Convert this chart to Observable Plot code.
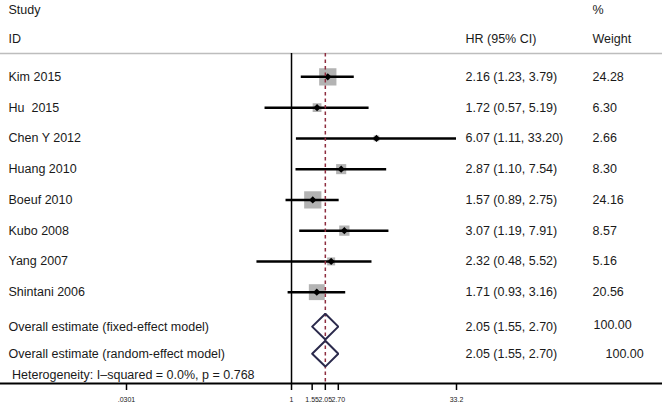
<!DOCTYPE html>
<html>
<head>
<meta charset="utf-8">
<script src="https://cdn.jsdelivr.net/npm/d3@7"></script>
<script src="https://cdn.jsdelivr.net/npm/@observablehq/plot@0.6"></script>
<style>
  html, body { margin: 0; padding: 0; background: #fff; }
  #chart svg { display: block; }
</style>
</head>
<body>
<div id="chart"></div>
<script>
// ---- Data ----
const studies = ["Kim 2015", "Hu  2015", "Chen Y 2012", "Huang 2010", "Boeuf 2010", "Kubo 2008", "Yang 2007", "Shintani 2006"];
const hr      = [2.16, 1.72, 6.07, 2.87, 1.57, 3.07, 2.32, 1.71];
const lower   = [1.23, 0.57, 1.11, 1.10, 0.89, 1.19, 0.48, 0.93];
const upper   = [3.79, 5.19, 33.20, 7.54, 2.75, 7.91, 5.52, 3.16];
const weights = [24.28, 6.30, 2.66, 8.30, 24.16, 8.57, 5.16, 20.56];

const overallLabels = ["Overall estimate (fixed-effect model)", "Overall estimate (random-effect model)"];
const overallHR     = [2.05, 2.05];
const overallLower  = [1.55, 1.55];
const overallUpper  = [2.70, 2.70];
const overallWeight = ["100.00", "100.00"];

const heterogeneity = "Heterogeneity: I\u2013squared = 0.0%, p = 0.768";
const tickValues = [0.0301, 1, 1.55, 2.05, 2.70, 33.2];
const tickLabels = [".0301", "1", "1.55", "2.05", "2.70", "33.2"];

// ---- Layout (row positions in row units) ----
const overallRows = [8.12, 9.0];
const overallWeightDx = [593, 605];
const hetRow = 9.7;
const headRows = {study: -2.19, id: -1.23};
const diamondHalf = 0.42;
const fmt = d3.format(".2f");

const rows = studies.map((s, i) => ({
  study: s, hr: hr[i], lo: lower[i], hi: upper[i], w: weights[i], row: i,
  ci: `${fmt(hr[i])} (${fmt(lower[i])}, ${fmt(upper[i])})`,
  wt: fmt(weights[i])
}));
const overall = overallLabels.map((s, i) => ({
  label: s, hr: overallHR[i], lo: overallLower[i], hi: overallUpper[i], row: overallRows[i],
  ci: `${fmt(overallHR[i])} (${fmt(overallLower[i])}, ${fmt(overallUpper[i])})`,
  wt: overallWeight[i]
}));
const diamondPts = overall.flatMap((o, k) => [
  {x: o.lo, y: o.row, k}, {x: o.hr, y: o.row - diamondHalf, k},
  {x: o.hi, y: o.row, k}, {x: o.hr, y: o.row + diamondHalf, k},
  {x: o.lo, y: o.row, k}
]);

const font = "Helvetica, Arial, 'Liberation Sans', sans-serif";
const fs = 12.5;
const ink = "#1a1a1a";

const chart = Plot.plot({
  width: 662,
  height: 407,
  marginLeft: 0,
  marginRight: 0,
  marginTop: 53,
  marginBottom: 24,
  style: {fontFamily: font, background: "#fff", overflow: "visible"},
  x: {type: "log", domain: [0.0301, 33.2], range: [126, 456], axis: null},
  y: {domain: [-0.76, 9.97], reverse: true, axis: null},
  r: {domain: [0, 24.28], range: [0, 9.75]},
  marks: [
    // header separator
    Plot.frame({anchor: "top", stroke: "#bdbdbd", strokeWidth: 1.5}),
    // null line at 1
    Plot.ruleX([1], {stroke: "#000", strokeWidth: 1.5}),
    // weight boxes
    Plot.dot(rows, {x: "hr", y: "row", r: "w", symbol: "square", fill: "#b3b3b3", stroke: "none"}),
    // CIs
    Plot.ruleY(rows, {y: "row", x1: "lo", x2: "hi", stroke: "#000", strokeWidth: 2.5}),
    // point estimates
    Plot.dot(rows, {x: "hr", y: "row", r: 3.3, symbol: "diamond2", fill: "#000", stroke: "none"}),
    // overall effect dashed line
    Plot.ruleX([overallHR[0]], {stroke: "#8e2d3f", strokeWidth: 1.5, strokeDasharray: "3.5,3"}),
    // overall diamonds
    Plot.line(diamondPts, {x: "x", y: "y", z: "k", stroke: "#2b2a4c", strokeWidth: 2, fill: "none", strokeLinejoin: "miter"}),
    // axis line
    Plot.frame({anchor: "bottom", stroke: "#000", strokeWidth: 1.8}),
    Plot.axisX({ticks: tickValues, tickFormat: d => tickLabels[tickValues.indexOf(d)], tickSize: 7, tickPadding: 7, fontSize: 7, stroke: "#000", strokeWidth: 1.5, fill: ink}),
    // headers
    Plot.text(["Study"], {y: () => headRows.study, frameAnchor: "left", dx: 8, textAnchor: "start", fontSize: fs, fill: ink}),
    Plot.text(["ID"], {y: () => headRows.id, frameAnchor: "left", dx: 8, textAnchor: "start", fontSize: fs, fill: ink}),
    Plot.text(["HR (95% CI)"], {y: () => headRows.id, frameAnchor: "left", dx: 465, textAnchor: "start", fontSize: fs, fill: ink}),
    Plot.text(["%"], {y: () => headRows.study, frameAnchor: "left", dx: 592, textAnchor: "start", fontSize: fs, fill: ink}),
    Plot.text(["Weight"], {y: () => headRows.id, frameAnchor: "left", dx: 592, textAnchor: "start", fontSize: fs, fill: ink}),
    // study labels and values
    Plot.text(rows, {y: "row", text: "study", frameAnchor: "left", dx: 8, textAnchor: "start", fontSize: fs, fill: ink}),
    Plot.text(rows, {y: "row", text: "ci", frameAnchor: "left", dx: 465, textAnchor: "start", fontSize: fs, fill: ink}),
    Plot.text(rows, {y: "row", text: "wt", frameAnchor: "left", dx: 592, textAnchor: "start", fontSize: fs, fill: ink}),
    // overall labels and values
    Plot.text(overall, {y: "row", text: "label", frameAnchor: "left", dx: 8, textAnchor: "start", fontSize: fs, fill: ink}),
    Plot.text(overall, {y: "row", text: "ci", frameAnchor: "left", dx: 465, textAnchor: "start", fontSize: fs, fill: ink}),
    ...overall.map((o, i) => Plot.text([o], {y: d => d.row - (i === 0 ? 0.06 : 0), text: "wt", frameAnchor: "left", dx: overallWeightDx[i], textAnchor: "start", fontSize: fs, fill: ink})),
    // heterogeneity
    Plot.text([heterogeneity], {y: () => hetRow, frameAnchor: "left", dx: 11.5, textAnchor: "start", fontSize: fs, fill: ink})
  ]
});
document.getElementById("chart").appendChild(chart);
</script>
</body>
</html>
